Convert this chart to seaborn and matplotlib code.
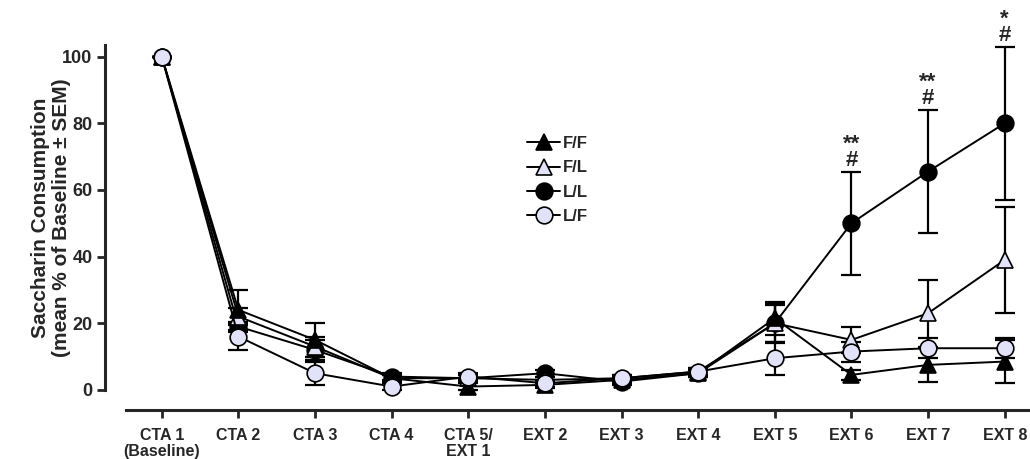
import numpy as np
import pandas as pd
import matplotlib
matplotlib.use('Agg')
import matplotlib.pyplot as plt
import seaborn as sns

# Dados
sessoes = ['CTA 1\n(Baseline)', 'CTA 2', 'CTA 3', 'CTA 4', 'CTA 5/\nEXT 1', 'EXT 2',
           'EXT 3', 'EXT 4', 'EXT 5', 'EXT 6', 'EXT 7', 'EXT 8']
grupos = ['F/F', 'F/L', 'L/L', 'L/F']

ff_media = [100, 24, 15, 3.5, 1, 1.5, 3, 5, 21.5, 4.5, 7.5, 8.5]
ff_sem = [0, 6, 5, 1, 1, 1, 1, 1, 5, 1.5, 5, 6.5]
fl_media = [100, 22, 13, 3.5, 3.5, 3, 3.5, 5.5, 20, 15, 23, 39]
fl_sem = [0, 2.5, 3, 1, 1, 1, 1, 1, 6, 4, 10, 16]
ll_media = [100, 19, 12, 4, 3.5, 5, 2.5, 5, 20, 50, 65.5, 80]
ll_sem = [0, 1.5, 3, 1, 1, 1, 1, 1, 5.5, 15.5, 18.5, 23]
lf_media = [100, 16, 5, 1, 4, 2, 3.5, 5.5, 9.5, 11.5, 12.5, 12.5]
lf_sem = [0, 4, 3.5, 1, 1, 1, 1, 1, 5, 3, 3, 3]

# Anotações de significância (L/L vs outros)
anot_idx = [9, 10, 11]
anot_txt = ['**\n#', '**\n#', '*\n#']

medias = [ff_media, fl_media, ll_media, lf_media]
sems = [ff_sem, fl_sem, ll_sem, lf_sem]
marcadores = ['^', '^', 'o', 'o']
preenchimento = ['black', '#e2e2f8', 'black', '#e2e2f8']
camada = [5, 4, 3, 6]

df = pd.DataFrame({
    'sessao': np.tile(np.arange(len(sessoes)), len(grupos)),
    'grupo': np.repeat(grupos, len(sessoes)),
    'media': np.concatenate(medias),
    'sem': np.concatenate(sems),
})

sns.set_style('ticks')
plt.rcParams['font.family'] = ['Liberation Sans', 'DejaVu Sans']
plt.rcParams['font.weight'] = 'bold'

fig = plt.figure(figsize=(10.30, 4.59), dpi=100)
ax = fig.add_axes([0.102, 0.107, 0.898, 0.806])

# Barras de erro
for i, g in enumerate(grupos):
    d = df[df['grupo'] == g]
    ax.errorbar(d['sessao'], d['media'], yerr=d['sem'], fmt='none', ecolor='black',
                elinewidth=1.6, capsize=7.5, capthick=1.6, zorder=2)

# Linhas e marcadores
for i, g in enumerate(grupos):
    d = df[df['grupo'] == g]
    sns.lineplot(data=d, x='sessao', y='media', ax=ax, color='black', linewidth=1.4,
                 marker=marcadores[i], markersize=12, markerfacecolor=preenchimento[i],
                 markeredgecolor='black', markeredgewidth=1.2, label=g, zorder=camada[i])

for k, idx in enumerate(anot_idx):
    topo = ll_media[idx] + ll_sem[idx]
    ax.text(idx, topo + 0.2, anot_txt[k], ha='center', va='bottom', fontsize=16,
            fontweight='bold', linespacing=0.72, clip_on=False)

ax.set_xlim(-0.74, 11.33)
ax.set_ylim(-6, 105)
ax.set_xticks(range(len(sessoes)))
ax.set_xticklabels(sessoes, fontsize=11.5, fontweight='bold', linespacing=1.05)
ax.set_yticks([0, 20, 40, 60, 80, 100])
ax.set_yticklabels(['0', '20', '40', '60', '80', '100'], fontsize=13, fontweight='bold')
ax.set_xlabel('')
ax.set_ylabel('Saccharin Consumption\n(mean % of Baseline ± SEM)', fontsize=15,
              fontweight='bold', linespacing=1.1)
ax.yaxis.set_label_coords(-0.037, 0.52)

sns.despine(ax=ax)
ax.spines['left'].set_bounds(0, 103.5)
ax.spines['bottom'].set_bounds(-0.47, 11.33)
ax.spines['left'].set_linewidth(2.2)
ax.spines['bottom'].set_linewidth(2.2)
ax.tick_params(axis='y', width=2, length=6, direction='out', pad=3)
ax.tick_params(axis='x', width=2, length=6, direction='out', pad=7)

leg = ax.legend(loc='upper left', bbox_to_anchor=(0.44, 0.78), frameon=False,
                handlelength=2.0, handletextpad=0.15, labelspacing=0.55,
                prop={'weight': 'bold', 'size': 12})

fig.savefig('out.png', dpi=100)
